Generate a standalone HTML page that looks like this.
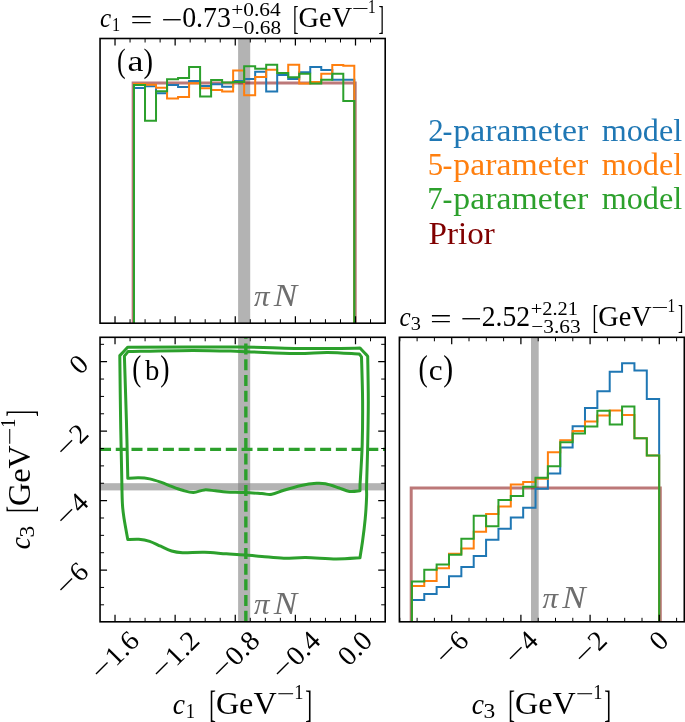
<!DOCTYPE html>
<html><head><meta charset="utf-8"><title>Corner plot</title>
<style>html,body{margin:0;padding:0;background:#fff}svg{display:block}text{font-family:"Liberation Serif",serif}</style>
</head><body>
<svg width="685" height="722" viewBox="0 0 685 722">
<rect width="685" height="722" fill="#fff"/>
<rect x="238.1" y="38.5" width="12.1" height="284.70" fill="#808080" fill-opacity="0.6"/>
<path d="M133.15,323.2V82.9H355.2V323.2" fill="none" stroke="#800000" stroke-opacity="0.53" stroke-width="3.0" stroke-linejoin="miter"/>
<path d="M134.00,323.20V88.00H145.01V86.30H156.03V93.30H167.05V85.10H178.06V86.90H189.07V80.90H200.09V86.00H211.11V84.20H222.12V86.80H233.13V80.90H244.15V78.90H255.17V71.80H266.18V91.40H277.19V74.90H288.21V78.90H299.23V72.30H310.24V66.90H321.25V70.00H332.27V79.80H343.29V79.80H354.30V323.20" fill="none" stroke="#1f77b4" stroke-width="2.0" stroke-linejoin="miter"/>
<path d="M134.00,323.20V83.90H145.01V84.80H156.03V87.80H167.05V98.50H178.06V97.10H189.07V83.20H200.09V88.30H211.11V90.00H222.12V91.40H233.13V70.40H244.15V95.30H255.17V76.90H266.18V69.70H277.19V73.10H288.21V64.70H299.23V83.60H310.24V82.10H321.25V73.70H332.27V64.90H343.29V65.70H354.30V323.20" fill="none" stroke="#ff7f0e" stroke-width="2.0" stroke-linejoin="miter"/>
<path d="M134.00,323.20V85.10H145.01V120.70H156.03V91.30H167.05V79.30H178.06V78.10H189.07V66.90H200.09V96.60H211.11V80.10H222.12V82.40H233.13V81.90H244.15V66.30H255.17V68.80H266.18V64.80H277.19V73.10H288.21V77.20H299.23V73.70H310.24V83.40H321.25V79.80H332.27V73.70H343.29V101.10H354.30V323.20" fill="none" stroke="#2ca02c" stroke-width="2.0" stroke-linejoin="miter"/>
<path d="M115.02,323.2v-7M115.02,38.5v7M175.14,323.2v-7M175.14,38.5v7M235.26,323.2v-7M235.26,38.5v7M295.38,323.2v-7M295.38,38.5v7M355.50,323.2v-7M355.50,38.5v7" stroke="#000" stroke-width="1.25" fill="none"/>
<path d="M130.05,323.2v-4M130.05,38.5v4M145.08,323.2v-4M145.08,38.5v4M160.11,323.2v-4M160.11,38.5v4M190.17,323.2v-4M190.17,38.5v4M205.20,323.2v-4M205.20,38.5v4M220.23,323.2v-4M220.23,38.5v4M250.29,323.2v-4M250.29,38.5v4M265.32,323.2v-4M265.32,38.5v4M280.35,323.2v-4M280.35,38.5v4M310.41,323.2v-4M310.41,38.5v4M325.44,323.2v-4M325.44,38.5v4M340.47,323.2v-4M340.47,38.5v4M370.53,323.2v-4M370.53,38.5v4" stroke="#000" stroke-width="1" fill="none"/>
<rect x="100.05" y="38.5" width="285.15" height="284.70" fill="none" stroke="#000" stroke-width="1.6"/>
<rect x="531" y="337.3" width="7.7" height="284.50" fill="#808080" fill-opacity="0.6"/>
<path d="M411.2,621.8V488.0H660.3V621.8" fill="none" stroke="#800000" stroke-opacity="0.53" stroke-width="3.0" stroke-linejoin="miter"/>
<path d="M411.90,621.80V599.90H424.26V594.10H436.63V587.00H448.99V576.30H461.35V567.00H473.71V555.90H486.08V539.80H498.44V528.80H510.80V517.50H523.17V507.70H535.53V488.80H547.89V473.40H560.26V447.50H572.62V426.30H584.98V408.00H597.35V391.30H609.71V371.80H622.07V363.20H634.43V370.50H646.80V399.00H659.16V621.80" fill="none" stroke="#1f77b4" stroke-width="2.0" stroke-linejoin="miter"/>
<path d="M411.90,621.80V585.90H424.26V581.00H436.63V568.30H448.99V553.70H461.35V548.40H473.71V531.80H486.08V514.00H498.44V506.60H510.80V484.60H523.17V482.00H535.53V478.80H547.89V452.30H560.26V440.20H572.62V431.00H584.98V421.50H597.35V415.50H609.71V410.50H622.07V415.10H634.43V438.30H646.80V455.50H659.16V621.80" fill="none" stroke="#ff7f0e" stroke-width="2.0" stroke-linejoin="miter"/>
<path d="M411.90,621.80V581.60H424.26V569.80H436.63V564.50H448.99V554.80H461.35V538.70H473.71V515.70H486.08V526.20H498.44V500.10H510.80V496.00H523.17V486.70H535.53V477.70H547.89V466.30H560.26V442.20H572.62V433.50H584.98V426.50H597.35V410.80H609.71V424.50H622.07V406.60H634.43V438.30H646.80V455.50H659.16V621.80" fill="none" stroke="#2ca02c" stroke-width="2.0" stroke-linejoin="miter"/>
<path d="M451.70,621.8v-7M451.70,337.3v7M520.90,621.8v-7M520.90,337.3v7M590.10,621.8v-7M590.10,337.3v7M659.30,621.8v-7M659.30,337.3v7" stroke="#000" stroke-width="1.25" fill="none"/>
<path d="M399.80,621.8v-4M399.80,337.3v4M417.10,621.8v-4M417.10,337.3v4M434.40,621.8v-4M434.40,337.3v4M469.00,621.8v-4M469.00,337.3v4M486.30,621.8v-4M486.30,337.3v4M503.60,621.8v-4M503.60,337.3v4M538.20,621.8v-4M538.20,337.3v4M555.50,621.8v-4M555.50,337.3v4M572.80,621.8v-4M572.80,337.3v4M607.40,621.8v-4M607.40,337.3v4M624.70,621.8v-4M624.70,337.3v4M642.00,621.8v-4M642.00,337.3v4M676.60,621.8v-4M676.60,337.3v4" stroke="#000" stroke-width="1" fill="none"/>
<rect x="399.4" y="337.3" width="284.90" height="284.50" fill="none" stroke="#000" stroke-width="1.6"/>
<rect x="238.1" y="337.3" width="12.1" height="284.50" fill="#808080" fill-opacity="0.6"/>
<rect x="100.05" y="483.2" width="285.15" height="7.2" fill="#808080" fill-opacity="0.6"/>
<path d="M127.6,347.3C146.3,347.2 212.2,346.8 240.0,347.0C267.9,347.2 274.7,348.2 294.7,348.4C314.7,348.6 349.1,348.2 360.0,348.1C361.3,349.5 366.4,354.9 367.7,356.2C367.8,363.6 368.3,385.1 368.3,400.7C368.3,416.3 367.9,435.9 367.6,450.0C367.3,464.1 366.8,477.2 366.6,485.0C366.4,492.8 366.8,491.3 366.6,496.9C366.4,502.5 365.9,511.5 365.2,518.8C364.5,526.1 363.5,534.2 362.6,540.7C361.7,547.2 360.4,554.9 360.0,557.8C356.1,558.0 345.4,558.9 336.3,558.9C327.2,558.9 314.4,557.6 305.7,557.5C296.9,557.4 291.1,558.4 283.8,558.2C276.5,558.0 268.4,557.0 261.9,556.5C255.4,556.0 250.9,555.4 245.0,554.9C239.1,554.4 233.2,554.2 226.4,553.8C219.7,553.4 211.8,552.5 204.5,552.3C197.2,552.1 188.1,552.9 182.6,552.7C177.1,552.5 175.2,552.1 171.6,551.0C167.9,549.9 164.3,547.8 160.7,546.2C157.0,544.6 153.3,542.5 149.7,541.3C146.0,540.1 142.5,539.5 138.8,539.2C135.2,538.9 129.6,539.5 127.8,539.6C127.2,536.1 125.0,524.8 124.1,518.8C123.2,512.8 122.8,510.8 122.4,503.5C122.0,496.2 122.0,488.9 121.7,475.0C121.4,461.1 120.9,439.9 120.6,420.0C120.3,400.1 119.9,366.3 119.8,355.6C121.1,354.2 126.3,348.7 127.6,347.3Z" fill="none" stroke="#2ca02c" stroke-width="3.0" stroke-linejoin="round"/>
<path d="M128.0,351.6C138.8,351.4 174.3,350.4 193.0,350.4C211.7,350.4 223.1,350.9 240.0,351.4C256.9,351.9 280.1,353.3 294.7,353.5C309.3,353.7 316.8,352.4 327.6,352.5C338.4,352.6 354.0,353.8 359.3,354.0C359.7,354.5 361.1,356.4 361.5,356.9C361.7,364.2 362.5,386.1 362.6,400.7C362.7,415.3 362.6,430.4 362.2,444.5C361.8,458.6 360.4,478.2 360.0,485.0C360.0,486.0 360.0,489.8 360.0,490.8C358.2,490.9 353.1,491.9 349.5,491.4C345.9,490.9 342.5,489.0 338.5,487.7C334.5,486.4 329.0,484.5 325.4,483.8C321.8,483.1 320.6,483.0 316.6,483.3C312.6,483.6 306.8,484.3 301.3,485.5C295.8,486.7 288.7,488.8 283.8,490.3C278.9,491.8 275.5,493.8 271.8,494.3C268.1,494.9 266.4,493.9 261.9,493.6C257.4,493.3 250.9,492.8 245.0,492.5C239.1,492.2 231.3,492.2 226.4,491.9C221.5,491.6 219.1,491.1 215.4,490.8C211.8,490.5 208.2,489.6 204.5,489.9C200.8,490.2 197.2,492.4 193.5,492.5C189.8,492.6 186.2,491.3 182.6,490.3C178.9,489.3 175.2,487.8 171.6,486.4C167.9,485.0 164.3,483.4 160.7,482.2C157.0,480.9 153.3,479.6 149.7,478.9C146.0,478.2 142.5,477.9 138.8,477.8C135.2,477.7 129.6,478.2 127.8,478.3C127.6,468.6 127.0,440.4 126.4,420.0C125.8,399.6 124.7,366.8 124.4,356.2C125.0,355.4 127.4,352.4 128.0,351.6Z" fill="none" stroke="#2ca02c" stroke-width="3.0" stroke-linejoin="round"/>
<path d="M245.85,621.8V337.3" stroke="#2ca02c" stroke-width="3.4" stroke-dasharray="11.0 4.72" fill="none"/>
<path d="M100.05,449.3H385.2" stroke="#2ca02c" stroke-width="3.2" stroke-dasharray="11.0 4.72" fill="none"/>
<path d="M115.02,621.8v-7M115.02,337.3v7M175.14,621.8v-7M175.14,337.3v7M235.26,621.8v-7M235.26,337.3v7M295.38,621.8v-7M295.38,337.3v7M355.50,621.8v-7M355.50,337.3v7M100.05,570.08h7M385.2,570.08h-7M100.05,500.62h7M385.2,500.62h-7M100.05,431.16h7M385.2,431.16h-7M100.05,361.70h7M385.2,361.70h-7" stroke="#000" stroke-width="1.25" fill="none"/>
<path d="M130.05,621.8v-4M130.05,337.3v4M145.08,621.8v-4M145.08,337.3v4M160.11,621.8v-4M160.11,337.3v4M190.17,621.8v-4M190.17,337.3v4M205.20,621.8v-4M205.20,337.3v4M220.23,621.8v-4M220.23,337.3v4M250.29,621.8v-4M250.29,337.3v4M265.32,621.8v-4M265.32,337.3v4M280.35,621.8v-4M280.35,337.3v4M310.41,621.8v-4M310.41,337.3v4M325.44,621.8v-4M325.44,337.3v4M340.47,621.8v-4M340.47,337.3v4M370.53,621.8v-4M370.53,337.3v4M100.05,604.81h4M385.2,604.81h-4M100.05,587.44h4M385.2,587.44h-4M100.05,552.71h4M385.2,552.71h-4M100.05,535.35h4M385.2,535.35h-4M100.05,517.99h4M385.2,517.99h-4M100.05,483.25h4M385.2,483.25h-4M100.05,465.89h4M385.2,465.89h-4M100.05,448.52h4M385.2,448.52h-4M100.05,413.79h4M385.2,413.79h-4M100.05,396.43h4M385.2,396.43h-4M100.05,379.06h4M385.2,379.06h-4M100.05,344.33h4M385.2,344.33h-4" stroke="#000" stroke-width="1" fill="none"/>
<rect x="100.05" y="337.3" width="285.15" height="284.50" fill="none" stroke="#000" stroke-width="1.6"/>
<g fill="#000">
<text transform="translate(100.11,27.35) scale(0.904,1)" font-size="27.8" font-style="italic">c</text>
<text transform="translate(111.93,30.70) scale(0.865,1)" font-size="18.8">1</text>
<text transform="translate(130.34,29.25) scale(1.427,1)" font-size="27.8">=</text>
<text transform="translate(161.52,28.82) scale(1.366,1)" font-size="27.8">−</text>
<text transform="translate(182.13,27.35) scale(0.960,1)" font-size="29.0">0.73</text>
<text transform="translate(231.20,15.80) scale(1.139,1)" font-size="18.8">+0.64</text>
<text transform="translate(231.70,33.70) scale(1.135,1)" font-size="18.8">−0.68</text>
<text transform="translate(293.06,29.27) scale(0.599,1.185)" font-size="27.8">[</text>
<text transform="translate(298.61,27.35) scale(0.977,1)" font-size="29.0">GeV</text>
<text transform="translate(351.67,15.22) scale(1.623,1)" font-size="18.8">−</text>
<text transform="translate(367.99,12.70) scale(0.823,1)" font-size="18.8">1</text>
<text transform="translate(378.58,29.27) scale(0.599,1.185)" font-size="27.8">]</text>
<text transform="translate(399.41,326.35) scale(0.904,1)" font-size="27.8" font-style="italic">c</text>
<text transform="translate(410.64,329.70) scale(1.084,1)" font-size="18.8">3</text>
<text transform="translate(429.99,328.25) scale(1.389,1)" font-size="27.8">=</text>
<text transform="translate(460.72,327.82) scale(1.366,1)" font-size="27.8">−</text>
<text transform="translate(481.74,326.35) scale(0.953,1)" font-size="29.0">2.52</text>
<text transform="translate(530.74,314.80) scale(1.085,1)" font-size="18.8">+2.21</text>
<text transform="translate(531.20,332.70) scale(1.135,1)" font-size="18.8">−3.63</text>
<text transform="translate(592.53,328.27) scale(0.614,1.185)" font-size="27.8">[</text>
<text transform="translate(598.32,326.35) scale(0.973,1)" font-size="29.0">GeV</text>
<text transform="translate(651.17,314.22) scale(1.623,1)" font-size="18.8">−</text>
<text transform="translate(667.59,311.70) scale(0.823,1)" font-size="18.8">1</text>
<text transform="translate(677.99,328.27) scale(0.583,1.185)" font-size="27.8">]</text>
<text transform="translate(428.24,140.90) scale(0.994,1)" font-size="31.0" fill="#1f77b4">2</text>
<text transform="translate(442.57,140.90) scale(0.959,1)" font-size="31.0" fill="#1f77b4">-</text>
<text transform="translate(453.37,140.90) scale(1.090,1)" font-size="31.0" fill="#1f77b4">parameter</text>
<text transform="translate(601.70,140.90) scale(1.039,1)" font-size="31.0" fill="#1f77b4">model</text>
<text transform="translate(427.76,175.15) scale(0.994,1)" font-size="31.0" fill="#ff7f0e">5</text>
<text transform="translate(442.57,175.15) scale(0.959,1)" font-size="31.0" fill="#ff7f0e">-</text>
<text transform="translate(453.37,175.15) scale(1.090,1)" font-size="31.0" fill="#ff7f0e">parameter</text>
<text transform="translate(601.70,175.15) scale(1.039,1)" font-size="31.0" fill="#ff7f0e">model</text>
<text transform="translate(427.27,209.40) scale(0.994,1)" font-size="31.0" fill="#2ca02c">7</text>
<text transform="translate(442.57,209.40) scale(0.959,1)" font-size="31.0" fill="#2ca02c">-</text>
<text transform="translate(453.37,209.40) scale(1.090,1)" font-size="31.0" fill="#2ca02c">parameter</text>
<text transform="translate(601.70,209.40) scale(1.039,1)" font-size="31.0" fill="#2ca02c">model</text>
<text transform="translate(428.58,243.65) scale(1.052,1)" font-size="31.5" fill="#800000">Prior</text>
<text transform="translate(116.99,71.53) scale(0.851,1.135)" font-size="30.5">(</text>
<text transform="translate(127.48,70.60) scale(1.178,1)" font-size="30.5">a</text>
<text transform="translate(143.51,71.53) scale(0.938,1.135)" font-size="30.5">)</text>
<text transform="translate(132.16,379.68) scale(0.886,1.142)" font-size="30.5">(</text>
<text transform="translate(145.00,379.70) scale(0.944,1)" font-size="30.5">b</text>
<text transform="translate(160.13,379.68) scale(0.913,1.142)" font-size="30.5">)</text>
<text transform="translate(418.43,380.28) scale(0.909,1.142)" font-size="30.5">(</text>
<text transform="translate(428.82,379.70) scale(1.024,1)" font-size="30.5">c</text>
<text transform="translate(443.17,380.28) scale(0.975,1.142)" font-size="30.5">)</text>
<text transform="translate(254.10,305.80) scale(1.018,1)" font-size="30.5" font-style="italic" fill="#6e6e6e">π</text>
<text transform="translate(273.65,305.80) scale(1.098,1)" font-size="32.0" font-style="italic" fill="#6e6e6e">N</text>
<text transform="translate(254.10,613.50) scale(1.018,1)" font-size="30.5" font-style="italic" fill="#6e6e6e">π</text>
<text transform="translate(273.65,613.50) scale(1.098,1)" font-size="32.0" font-style="italic" fill="#6e6e6e">N</text>
<text transform="translate(542.60,607.70) scale(1.018,1)" font-size="30.5" font-style="italic" fill="#6e6e6e">π</text>
<text transform="translate(562.15,607.70) scale(1.098,1)" font-size="32.0" font-style="italic" fill="#6e6e6e">N</text>
<g transform="translate(173.2,713.9)"><text transform="translate(-0.43,0.00) scale(0.902,1)" font-size="30.5" font-style="italic">c</text><text transform="translate(12.54,4.10) scale(0.876,1)" font-size="21.3">1</text><text transform="translate(36.05,2.97) scale(0.657,1.243)" font-size="30.5">[</text><text transform="translate(42.70,0.00) scale(1.005,1)" font-size="32.0">GeV</text><text transform="translate(103.51,-13.01) scale(1.492,1)" font-size="21.3">−</text><text transform="translate(121.06,-14.90) scale(0.864,1)" font-size="21.3">1</text><text transform="translate(132.06,2.97) scale(0.671,1.243)" font-size="30.5">]</text></g>
<g transform="translate(472.3,713.9)"><text transform="translate(-0.43,0.00) scale(0.902,1)" font-size="30.5" font-style="italic">c</text><text transform="translate(11.20,4.10) scale(1.102,1)" font-size="21.3">3</text><text transform="translate(36.05,2.97) scale(0.657,1.243)" font-size="30.5">[</text><text transform="translate(42.70,0.00) scale(1.005,1)" font-size="32.0">GeV</text><text transform="translate(103.51,-13.01) scale(1.492,1)" font-size="21.3">−</text><text transform="translate(121.06,-14.90) scale(0.864,1)" font-size="21.3">1</text><text transform="translate(132.06,2.97) scale(0.671,1.243)" font-size="30.5">]</text></g>
<g transform="translate(29.9,548.7) rotate(-90)"><text transform="translate(-0.43,0.00) scale(0.902,1)" font-size="30.5" font-style="italic">c</text><text transform="translate(11.20,4.10) scale(1.102,1)" font-size="21.3">3</text><text transform="translate(36.05,2.97) scale(0.657,1.243)" font-size="30.5">[</text><text transform="translate(42.70,0.00) scale(1.005,1)" font-size="32.0">GeV</text><text transform="translate(103.51,-13.01) scale(1.492,1)" font-size="21.3">−</text><text transform="translate(121.06,-14.90) scale(0.864,1)" font-size="21.3">1</text><text transform="translate(132.06,2.97) scale(0.671,1.243)" font-size="30.5">]</text></g>
<g font-size="27.8"><g transform="translate(140.80,642.20) rotate(-45)"><text transform="translate(-56.08,0) scale(1.266,1)">−</text><text transform="translate(-35.53,0) scale(1.022,1)">1.6</text></g>
<g transform="translate(201.00,642.20) rotate(-45)"><text transform="translate(-56.08,0) scale(1.266,1)">−</text><text transform="translate(-35.53,0) scale(1.022,1)">1.2</text></g>
<g transform="translate(261.20,642.20) rotate(-45)"><text transform="translate(-56.08,0) scale(1.266,1)">−</text><text transform="translate(-35.53,0) scale(1.022,1)">0.8</text></g>
<g transform="translate(322.00,642.20) rotate(-45)"><text transform="translate(-56.08,0) scale(1.266,1)">−</text><text transform="translate(-35.53,0) scale(1.022,1)">0.4</text></g>
<g transform="translate(373.80,642.20) rotate(-45)"><text transform="translate(-35.53,0) scale(1.022,1)">0.0</text></g>
<g transform="translate(470.00,642.20) rotate(-45)"><text transform="translate(-34.45,0) scale(1.266,1)">−</text><text transform="translate(-13.90,0) scale(1.000,1)">6</text></g>
<g transform="translate(539.50,642.20) rotate(-45)"><text transform="translate(-34.45,0) scale(1.266,1)">−</text><text transform="translate(-13.90,0) scale(1.000,1)">4</text></g>
<g transform="translate(608.70,642.20) rotate(-45)"><text transform="translate(-34.45,0) scale(1.266,1)">−</text><text transform="translate(-13.90,0) scale(1.000,1)">2</text></g>
<g transform="translate(670.20,642.20) rotate(-45)"><text transform="translate(-13.90,0) scale(1.000,1)">0</text></g>
<g transform="translate(90.20,366.00) rotate(-45)"><text transform="translate(-13.90,0) scale(1.000,1)">0</text></g>
<g transform="translate(90.20,435.10) rotate(-45)"><text transform="translate(-34.45,0) scale(1.266,1)">−</text><text transform="translate(-13.90,0) scale(1.000,1)">2</text></g>
<g transform="translate(90.20,504.20) rotate(-45)"><text transform="translate(-34.45,0) scale(1.266,1)">−</text><text transform="translate(-13.90,0) scale(1.000,1)">4</text></g>
<g transform="translate(90.20,573.30) rotate(-45)"><text transform="translate(-34.45,0) scale(1.266,1)">−</text><text transform="translate(-13.90,0) scale(1.000,1)">6</text></g></g>
</g>
</svg>
</body></html>
